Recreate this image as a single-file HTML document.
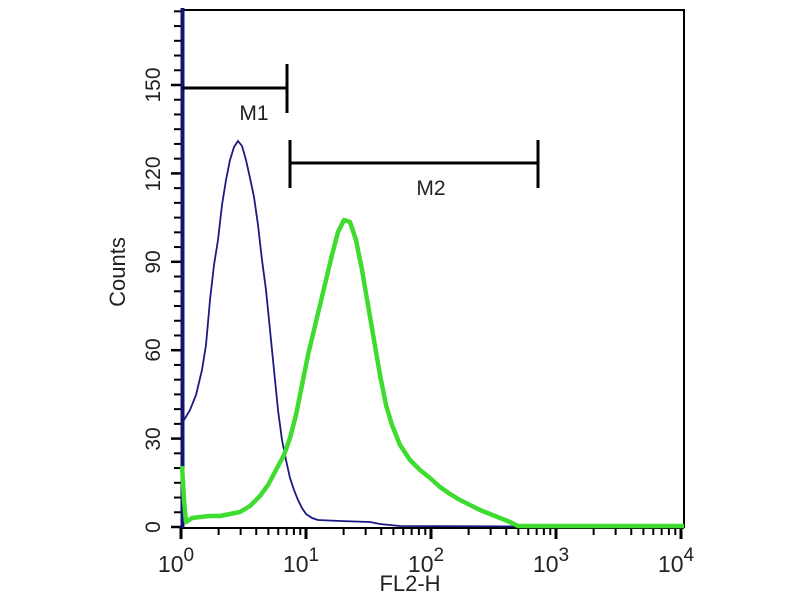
<!DOCTYPE html>
<html><head><meta charset="utf-8"><style>
html,body{margin:0;padding:0;background:#fff;}
svg{display:block;font-family:"Liberation Sans",Arial,sans-serif;}
</style></head><body>
<svg width="800" height="600" viewBox="0 0 800 600" xmlns="http://www.w3.org/2000/svg">
<rect width="800" height="600" fill="#fff"/>
<path d="M181 10 H684 V528" fill="none" stroke="#000" stroke-width="2"/>
<line x1="181" y1="528" x2="684" y2="528" stroke="#000" stroke-width="2"/>
<g id="yt" stroke="#000" stroke-width="2"></g>
<g id="xt" stroke="#000" stroke-width="2"></g>
<g font-size="21" fill="#222">
<text transform="translate(160,527) rotate(-90)" text-anchor="middle">0</text>
<text transform="translate(160,439) rotate(-90)" text-anchor="middle">30</text>
<text transform="translate(160,350) rotate(-90)" text-anchor="middle">60</text>
<text transform="translate(160,262) rotate(-90)" text-anchor="middle">90</text>
<text transform="translate(160,174) rotate(-90)" text-anchor="middle">120</text>
<text transform="translate(160,85) rotate(-90)" text-anchor="middle">150</text>
<text transform="translate(125,272) rotate(-90)" text-anchor="middle" font-size="22">Counts</text>
<text x="410" y="591" text-anchor="middle" font-size="22">FL2-H</text>
</g>
<g font-size="23" fill="#222" text-anchor="middle">
<text x="176" y="572">10<tspan dy="-11" font-size="19">0</tspan></text>
<text x="301" y="572">10<tspan dy="-11" font-size="19">1</tspan></text>
<text x="426" y="572">10<tspan dy="-11" font-size="19">2</tspan></text>
<text x="551" y="572">10<tspan dy="-11" font-size="19">3</tspan></text>
<text x="676" y="572">10<tspan dy="-11" font-size="19">4</tspan></text>
</g>
<line x1="182.5" y1="8" x2="182.5" y2="528" stroke="#141470" stroke-width="4"/>
<polyline fill="none" stroke="#1a1a80" stroke-width="1.8" points="184,420 190,410 196,395 202,370 206,345 210,300 214,265 218,240 222,205 226,180 230,160 234,147 238,141 242,146 246,160 250,178 254,197 258,225 262,260 266,290 270,330 274,370 278,410 282,440 286,460 290,478 294,490 298,500 302,508 306,514 312,518 318,520 340,521 370,522 380,524 400,526 684,527"/>
<polyline fill="none" stroke="#3fdc30" stroke-width="4.5" stroke-linejoin="round" points="182,466 184,500 186,522 192,518 200,517 210,516 220,516 230,514 240,512 250,506 260,496 268,485 276,470 284,455 290,438 296,415 302,385 308,355 314,330 320,305 326,280 332,255 338,232 344,220 350,222 356,240 362,270 368,305 374,340 380,375 386,405 392,425 400,445 410,460 420,470 430,478 440,487 450,494 460,500 470,505 480,510 490,514 500,518 510,522 518,526 684,526"/>
<g stroke="#000" stroke-width="3" fill="none">
<path d="M183 88 H287 M287 64 V113"/>
<path d="M290 163 H538 M290 140 V188 M538 140 V188"/>
</g>
<g font-size="21" fill="#222" text-anchor="middle">
<text x="254" y="120">M1</text>
<text x="431" y="195">M2</text>
</g>
<script>
var ns="http://www.w3.org/2000/svg";
var yt=document.getElementById('yt');
for(var c=0;c<=175;c+=5){var y=527-c*88.4/30;var l=document.createElementNS(ns,'line');
var major=c%30==0;l.setAttribute('x1',major?171:174);l.setAttribute('x2',181);l.setAttribute('y1',y);l.setAttribute('y2',y);if(major)l.setAttribute('stroke-width','2.5');yt.appendChild(l);}
var xt=document.getElementById('xt');
for(var d=0;d<4;d++){for(var k=1;k<=10;k++){if(k==10&&d<3)continue;var x=181+(d+Math.log10(k))*125;var l=document.createElementNS(ns,'line');
var major=(k==1||k==10);l.setAttribute('x1',x);l.setAttribute('x2',x);l.setAttribute('y1',528);l.setAttribute('y2',major?539:535);if(major)l.setAttribute('stroke-width','3');xt.appendChild(l);}}
</script>
</svg>
</body></html>
